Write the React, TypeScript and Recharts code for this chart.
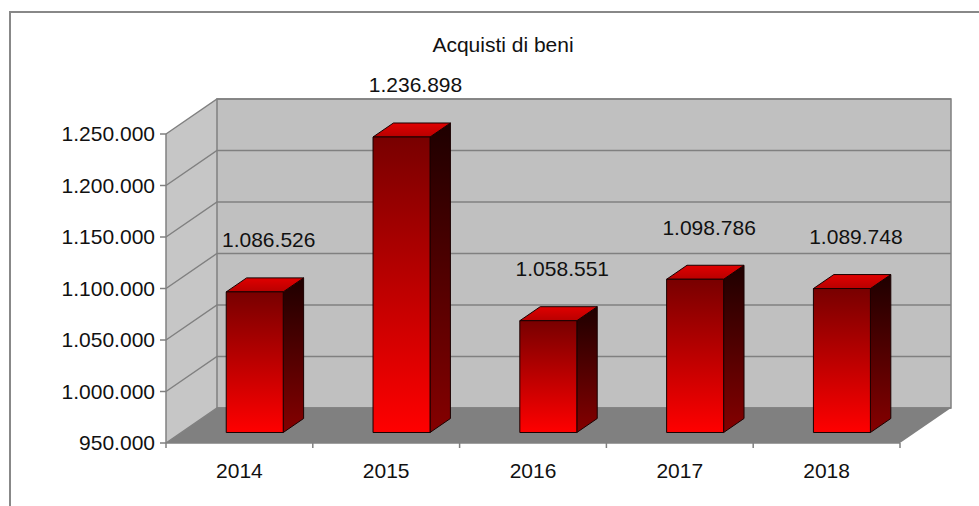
import React from 'react';
import { BarChart, Bar, XAxis, YAxis, CartesianGrid, ReferenceArea, LabelList } from 'recharts';

const years = ['2014', '2015', '2016', '2017', '2018'];
const acquisti = [1086526, 1236898, 1058551, 1098786, 1089748];
const yTicks = [950000, 1000000, 1050000, 1100000, 1150000, 1200000, 1250000];

const data = years.map((year, i) => ({ year, value: acquisti[i] }));

// fake 3D: offset from the front plane to the back wall
const DEPTH_X = 51;
const DEPTH_Y = -35;
const BAR_FRONT = 0.3; // bars start 30% into the depth
const BAR_DEPTH = 0.4;
const FONT = '"Liberation Sans", Arial, sans-serif';
const GRID = '#808080';

const fmt = (v: number) => String(v).replace(/\B(?=(\d{3})+(?!\d))/g, '.');

const Walls = (props: any) => {
  const { x, y, width, height } = props;
  const bx = x + DEPTH_X;
  const by = y + DEPTH_Y;
  const bottom = y + height;
  return (
    <g>
      <polygon points={`${x},${y} ${bx},${by} ${bx},${by + height} ${x},${bottom}`} fill="#c6c6c6" />
      <rect x={bx} y={by} width={width} height={height} fill="#c0c0c0" stroke={GRID} strokeWidth={1.5} />
      <polygon
        points={`${x},${bottom} ${x + width},${bottom} ${bx + width},${by + height} ${bx},${by + height}`}
        fill="#808080"
      />
    </g>
  );
};

const GridLine = (props: any) => {
  const { x1, y1, x2, index } = props;
  return (
    <polyline
      key={`g-${index}`}
      points={`${x1},${y1} ${x1 + DEPTH_X},${y1 + DEPTH_Y} ${x2 + DEPTH_X},${y1 + DEPTH_Y}`}
      fill="none"
      stroke={GRID}
      strokeWidth={1.5}
    />
  );
};

const Bar3D = (props: any) => {
  const { x, y, width, height } = props;
  const x0 = x + BAR_FRONT * DEPTH_X;
  const x1 = x0 + width;
  const yt = y + BAR_FRONT * DEPTH_Y;
  const yb = yt + height;
  const dx = BAR_DEPTH * DEPTH_X;
  const dy = BAR_DEPTH * DEPTH_Y;
  return (
    <g stroke="#1a0000" strokeWidth={1} strokeLinejoin="round">
      <polygon points={`${x1},${yt} ${x1 + dx},${yt + dy} ${x1 + dx},${yb + dy} ${x1},${yb}`} fill="url(#sideGrad)" />
      <polygon points={`${x0},${yt} ${x1},${yt} ${x1 + dx},${yt + dy} ${x0 + dx},${yt + dy}`} fill="url(#topGrad)" />
      <rect x={x0} y={yt} width={width} height={height} fill="url(#frontGrad)" />
    </g>
  );
};

const ValueLabel = (props: any) => {
  const { x, y, width, value } = props;
  return (
    <text
      x={x + width / 2 + BAR_FRONT * DEPTH_X + 14}
      y={y + BAR_FRONT * DEPTH_Y - 52}
      textAnchor="middle"
      dominantBaseline="central"
      fontFamily={FONT}
      fontSize={21}
      fill="#111"
    >
      {fmt(value)}
    </text>
  );
};

const YearTick = (props: any) => {
  const { x, y, payload, index } = props;
  const half = payload && payload.offset ? payload.offset : 73.4;
  const axisY = y - 20;
  return (
    <g>
      <line x1={x - half} y1={axisY} x2={x - half} y2={axisY + 5} stroke={GRID} strokeWidth={1.5} />
      {index === years.length - 1 && (
        <line x1={x + half} y1={axisY} x2={x + half} y2={axisY + 5} stroke={GRID} strokeWidth={1.5} />
      )}
      <text x={x} y={y} dy="0.71em" textAnchor="middle" fontFamily={FONT} fontSize={21} fill="#111">
        {payload.value}
      </text>
    </g>
  );
};

export default function App() {
  return (
    <div style={{ position: 'fixed', left: 0, top: 0, width: 979, height: 506, background: '#fff', overflow: 'hidden' }}>
      <div
        style={{
          position: 'absolute',
          left: 9,
          top: 11,
          width: 1000,
          height: 600,
          borderLeft: '2px solid #888',
          borderTop: '2px solid #888',
        }}
      />
      <div
        style={{
          position: 'absolute',
          left: 0,
          top: 33,
          width: 1006,
          textAlign: 'center',
          fontFamily: FONT,
          fontSize: 21,
          lineHeight: '24px',
          color: '#111',
        }}
      >
        Acquisti di beni
      </div>
      <div style={{ position: 'absolute', left: 0, top: 0 }}>
        <BarChart
          width={979}
          height={506}
          data={data}
          margin={{ top: 134, right: 79, bottom: 0, left: 0 }}
          barCategoryGap="30.6%"
        >
          <defs>
            <linearGradient id="frontGrad" x1="0" y1="0" x2="0" y2="1">
              <stop offset="0%" stopColor="#780000" />
              <stop offset="100%" stopColor="#ff0000" />
            </linearGradient>
            <linearGradient id="sideGrad" x1="0" y1="0" x2="0" y2="1">
              <stop offset="0%" stopColor="#1e0000" />
              <stop offset="100%" stopColor="#850000" />
            </linearGradient>
            <linearGradient id="topGrad" x1="0" y1="1" x2="0" y2="0">
              <stop offset="0%" stopColor="#b80000" />
              <stop offset="100%" stopColor="#e00000" />
            </linearGradient>
          </defs>
          <ReferenceArea y1={950000} y2={1250000} shape={<Walls />} zIndex={-200} ifOverflow="visible" />
          <CartesianGrid horizontal={GridLine} vertical={false} />
          <XAxis
            dataKey="year"
            height={63}
            tickSize={0}
            tickMargin={20}
            tickLine={false}
            axisLine={{ stroke: GRID, strokeWidth: 1.5 }}
            tick={<YearTick />}
          />
          <YAxis
            width={166}
            domain={[950000, 1250000]}
            ticks={yTicks}
            interval={0}
            tickFormatter={fmt}
            tickSize={6}
            tickMargin={5}
            axisLine={{ stroke: GRID, strokeWidth: 1.5 }}
            tickLine={{ stroke: GRID, strokeWidth: 1.5 }}
            tick={{ fontFamily: FONT, fontSize: 21, fill: '#111' }}
          />
          <Bar dataKey="value" shape={<Bar3D />} isAnimationActive={false}>
            <LabelList dataKey="value" content={<ValueLabel />} />
          </Bar>
        </BarChart>
      </div>
    </div>
  );
}
